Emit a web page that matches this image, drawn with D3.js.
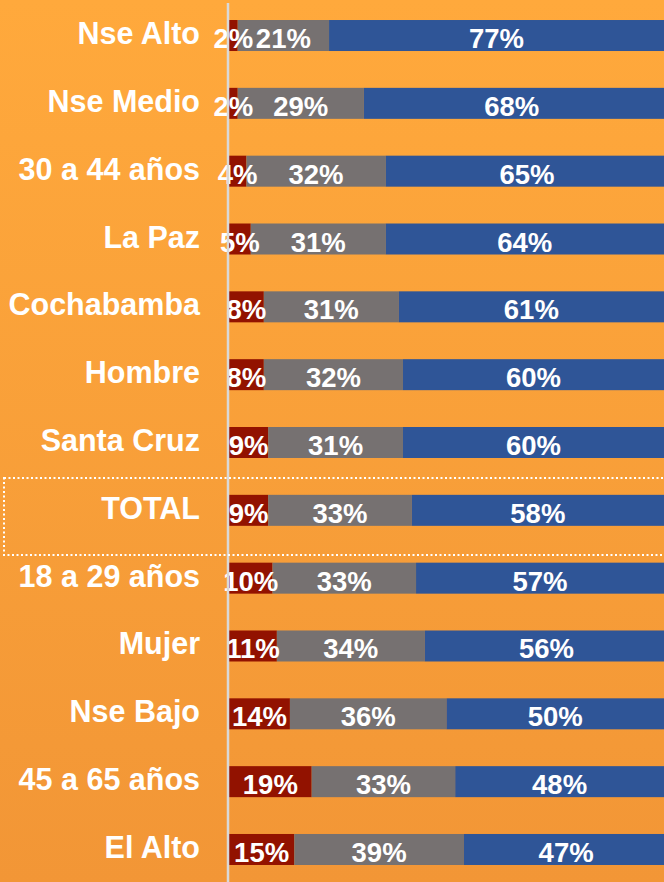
<!DOCTYPE html>
<html>
<head>
<meta charset="utf-8">
<script src="https://cdn.jsdelivr.net/npm/d3@7"></script>
<style>
  html, body { margin: 0; padding: 0; background: #F8A03A; }
  svg { display: block; }
</style>
</head>
<body>
<svg id="chart" width="664" height="882"></svg>
<script>
const categories = ["Nse Alto", "Nse Medio", "30 a 44 años", "La Paz", "Cochabamba", "Hombre", "Santa Cruz", "TOTAL", "18 a 29 años", "Mujer", "Nse Bajo", "45 a 65 años", "El Alto"];
const redValues  = [2, 2, 4, 5, 8, 8, 9, 9, 10, 11, 14, 19, 15];
const grayValues = [21, 29, 32, 31, 31, 32, 31, 33, 33, 34, 36, 33, 39];
const blueValues = [77, 68, 65, 64, 61, 60, 60, 58, 57, 56, 50, 48, 47];
const seriesNames = ["red", "gray", "blue"];
const highlight = "TOTAL";

const W = 664, H = 882;
const svg = d3.select("#chart");

// background gradient
const defs = svg.append("defs");
const grad = defs.append("linearGradient").attr("id", "bg").attr("x1", 0).attr("y1", 0).attr("x2", 0).attr("y2", 1);
grad.append("stop").attr("offset", "0%").attr("stop-color", "#FFA93C");
grad.append("stop").attr("offset", "100%").attr("stop-color", "#F29636");
svg.append("rect").attr("width", W).attr("height", H).attr("fill", "url(#bg)");

const rows = categories.map((c, i) => ({ cat: c, red: redValues[i], gray: grayValues[i], blue: blueValues[i] }));
const stack = d3.stack().keys(seriesNames)(rows);

const x = d3.scaleLinear().domain([0, 100]).range([229, 664]);
const y = d3.scaleBand().domain(categories).range([1.6, 883.4]).paddingInner(0.543).paddingOuter(0.2715);
const color = d3.scaleOrdinal().domain(seriesNames).range(["#921200", "#767171", "#2F5597"]);

// bars (last segment runs to the slide edge, as in the original)
const layers = svg.append("g").selectAll("g").data(stack).join("g").attr("fill", d => color(d.key));
layers.selectAll("rect").data(d => d.map(v => Object.assign(v, { key: d.key }))).join("rect")
  .attr("x", d => x(d[0]))
  .attr("y", d => y(d.data.cat))
  .attr("width", d => (d.key === "blue" ? Math.max(x(d[1]), W) : x(d[1])) - x(d[0]))
  .attr("height", y.bandwidth());

// value labels
const lab = svg.append("g").attr("font-family", "'Liberation Sans', Arial, sans-serif")
  .attr("font-weight", "bold").attr("font-size", 27.5).attr("fill", "#fff").attr("text-anchor", "middle");
stack.forEach(layer => {
  lab.append("g").selectAll("text").data(layer).join("text")
    .attr("x", d => (x(d[0]) + x(d[1])) / 2)
    .attr("y", d => y(d.data.cat) + y.bandwidth() / 2 + 12.5)
    .text(d => (d[1] - d[0]) + "%");
});

// vertical axis line
svg.append("line").attr("x1", 228).attr("x2", 228).attr("y1", 3).attr("y2", H)
  .attr("stroke", "#D9D9D9").attr("stroke-width", 2.5);

// category labels
const yAxis = d3.axisLeft(y).tickSize(0).tickPadding(0);
const ax = svg.append("g").attr("transform", "translate(200,0)").call(yAxis);
ax.select(".domain").remove();
ax.selectAll("text")
  .attr("font-family", "'Liberation Sans', Arial, sans-serif")
  .attr("font-weight", "bold").attr("font-size", 30.5).attr("fill", "#fff")
  .attr("dy", null).attr("y", 8.5);

// highlight dotted box around TOTAL
svg.append("rect")
  .attr("x", 4).attr("y", Math.round(y(highlight) - 17))
  .attr("width", 700).attr("height", 77)
  .attr("fill", "none").attr("stroke", "#fff").attr("stroke-width", 2)
  .attr("stroke-dasharray", "2,2.5");
</script>
</body>
</html>
